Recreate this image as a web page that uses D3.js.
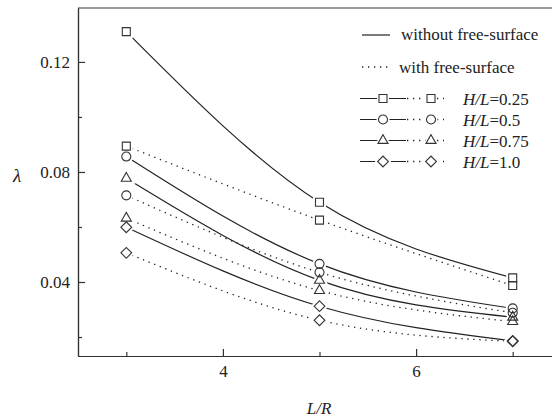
<!DOCTYPE html>
<html>
<head>
<meta charset="utf-8">
<script src="https://cdn.jsdelivr.net/npm/d3@7"></script>
</head>
<body style="margin:0;background:#fff">
<svg id="chart" width="552" height="419"></svg>
<script>
// L/R positions
const lr = [3, 5, 7]
const ratioLabels = ['0.25', '0.5', '0.75', '1.0']
// lambda without free-surface, one row per H/L
const withoutFS = [
  [0.1310, 0.0690, 0.0415],
  [0.0856, 0.0466, 0.0304],
  [0.0777, 0.0406, 0.0272],
  [0.0599, 0.0312, 0.0186]
]
// lambda with free-surface
const withFS = [
  [0.0894, 0.0625, 0.0387],
  [0.0715, 0.0435, 0.0288],
  [0.0632, 0.0369, 0.0256],
  [0.0506, 0.0261, 0.0184]
]
const xMajor = [4, 6]
const xMinor = [3, 5, 7]
const yMajor = [0.04, 0.08, 0.12]
const yMinor = [0.02, 0.06, 0.10]

const font = '"Liberation Serif"'
const ink = '#222'
const svg = d3.select('#chart').style('display', 'block')

const x = d3.scaleLinear().domain([2.5, 7.5]).range([78, 561])
const y = d3.scaleLinear().domain([0.0131, 0.1396]).range([356, 8])

// put font straight on each text node
function txt(sel, size, italic){
  return sel.attr('font-family', 'Liberation Serif').attr('font-size', size)
            .style('font-family', font, 'important').style('font-size', size + 'px', 'important')
            .style('font-style', italic ? 'italic' : 'normal').style('fill', ink)
}

// frame top line
svg.append('line')
   .attr('x1', 78).attr('x2', 552).attr('y1', 8).attr('y2', 8)
   .attr('stroke', '#333').attr('stroke-width', 1.2)

// axes with inward ticks
function styleAxis(g){
  g.attr('font-family', 'Liberation Serif').attr('font-size', 17)
  txt(g.selectAll('text'), 17, false)
  g.selectAll('path, line').attr('stroke', '#333').attr('stroke-width', 1.2)
}
svg.append('g').attr('transform', 'translate(0,356)')
   .call(d3.axisBottom(x).tickValues(xMajor).tickFormat(d3.format('d'))
         .tickSizeInner(-7).tickSizeOuter(0).tickPadding(9))
   .call(styleAxis)
svg.append('g').attr('transform', 'translate(0,356)')
   .call(d3.axisBottom(x).tickValues(xMinor).tickFormat('')
         .tickSizeInner(-4).tickSizeOuter(0))
   .call(styleAxis)
svg.append('g').attr('transform', 'translate(78,0)')
   .call(d3.axisLeft(y).tickValues(yMajor).tickFormat(d3.format('.2f'))
         .tickSizeInner(-7).tickSizeOuter(0).tickPadding(8))
   .call(styleAxis)
svg.append('g').attr('transform', 'translate(78,0)')
   .call(d3.axisLeft(y).tickValues(yMinor).tickFormat('')
         .tickSizeInner(-4).tickSizeOuter(0))
   .call(styleAxis)

// axis titles
txt(svg.append('text').attr('x', 17).attr('y', 182).attr('text-anchor', 'middle'), 19, true).text('λ')
txt(svg.append('text').attr('x', 319).attr('y', 414).attr('text-anchor', 'middle'), 17, true).text('L/R')

// marker shapes
const symbols = [
  d3.symbol(d3.symbolSquare, 64),
  d3.symbol(d3.symbolCircle, 64),
  d3.symbol(d3.symbolTriangle, 44),
  d3.symbol(d3.symbolSquare, 58)
]
const rot = [0, 0, 0, 45]

const line = d3.line().x((d, i) => x(lr[i])).y(d => y(d)).curve(d3.curveNatural)

const series = []
withoutFS.forEach((vals, k) => series.push({k, vals, dotted: false}))
withFS.forEach((vals, k) => series.push({k, vals, dotted: true}))

svg.append('g').selectAll('path').data(series).join('path')
   .attr('d', s => line(s.vals))
   .attr('fill', 'none')
   .attr('stroke', ink)
   .attr('stroke-width', s => s.dotted ? 1.3 : 1.2)
   .attr('stroke-dasharray', s => s.dotted ? '1.3,4.7' : null)

const pts = series.flatMap(s => s.vals.map((v, i) => ({k: s.k, x: lr[i], v})))

// white halos leave a gap between curve and marker
svg.append('g').selectAll('path').data(pts).join('path')
   .attr('transform', d => `translate(${x(d.x)},${y(d.v)}) rotate(${rot[d.k]})`)
   .attr('d', d => symbols[d.k]())
   .attr('fill', '#fff').attr('stroke', '#fff').attr('stroke-width', 5)
svg.append('g').selectAll('path').data(pts).join('path')
   .attr('transform', d => `translate(${x(d.x)},${y(d.v)}) rotate(${rot[d.k]})`)
   .attr('d', d => symbols[d.k]())
   .attr('fill', 'none').attr('stroke', '#333').attr('stroke-width', 1.1)

// legend
const lg = svg.append('g')
lg.append('line').attr('x1', 362).attr('x2', 390).attr('y1', 35).attr('y2', 35)
  .attr('stroke', ink).attr('stroke-width', 1.2)
txt(lg.append('text').attr('x', 401).attr('y', 40), 17, false).text('without free-surface')
lg.append('line').attr('x1', 362).attr('x2', 390).attr('y1', 67).attr('y2', 67)
  .attr('stroke', ink).attr('stroke-width', 1.3).attr('stroke-dasharray', '1.3,4.7')
txt(lg.append('text').attr('x', 399).attr('y', 73), 17, false).text('with free-surface')

ratioLabels.forEach((r, k) => {
  const yy = 98.5 + k * 21
  const row = lg.append('g')
  row.append('line').attr('x1', 360).attr('x2', 406).attr('y1', yy).attr('y2', yy)
     .attr('stroke', ink).attr('stroke-width', 1.2)
  row.append('line').attr('x1', 407).attr('x2', 444).attr('y1', yy).attr('y2', yy)
     .attr('stroke', ink).attr('stroke-width', 1.3).attr('stroke-dasharray', '1.3,4.7')
  ;[383, 431].forEach(cx => {
    row.append('path').attr('transform', `translate(${cx},${yy}) rotate(${rot[k]})`)
       .attr('d', symbols[k]()).attr('fill', '#fff').attr('stroke', '#fff').attr('stroke-width', 4)
    row.append('path').attr('transform', `translate(${cx},${yy}) rotate(${rot[k]})`)
       .attr('d', symbols[k]()).attr('fill', 'none').attr('stroke', '#333').attr('stroke-width', 1.1)
  })
  const t = txt(row.append('text').attr('x', 463).attr('y', yy + 6), 17, false)
  t.append('tspan').style('font-style', 'italic').text('H/L')
  t.append('tspan').text('=' + r)
})
</script>
</body>
</html>
